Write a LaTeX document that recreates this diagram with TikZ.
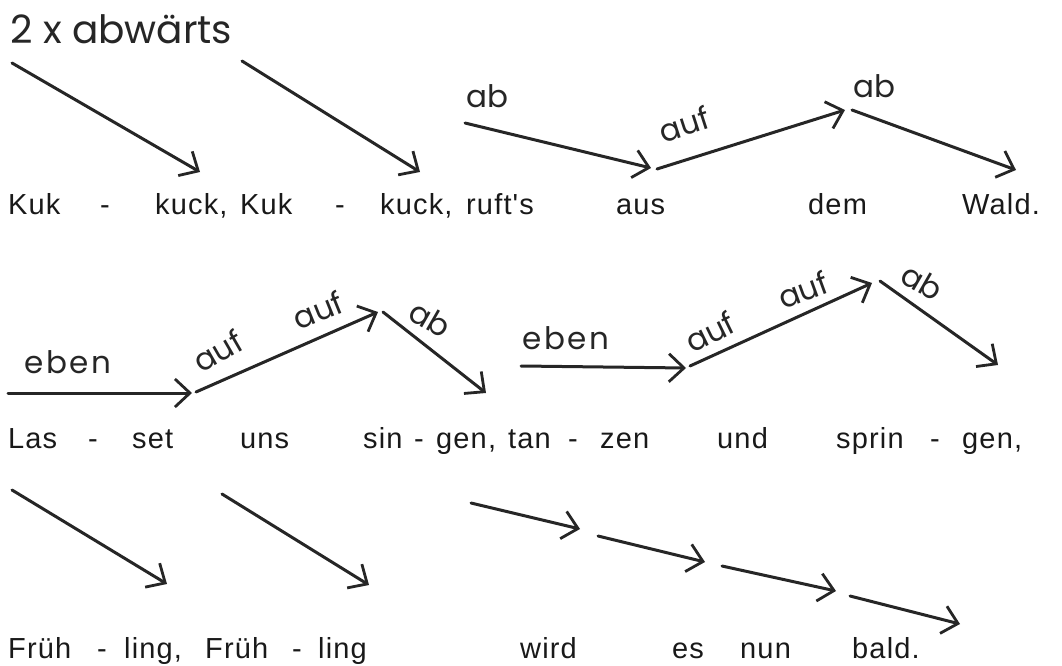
\documentclass[tikz,border=0pt]{standalone}
\usepackage{fontspec}
\usetikzlibrary{arrows.meta}
\newfontfamily\lyr[LetterSpace=4]{Liberation Sans}
\newfontfamily\hand{Poppins}
\newfontfamily\handw[LetterSpace=8]{Poppins}
\tikzset{
  syl/.style={anchor=base west, inner sep=0pt, font=\lyr\fontsize{29}{31}\selectfont, text=black!90},
  hw/.style={inner sep=0pt, font=\hand\fontsize{31}{33}\selectfont, text=black!85},
  hwe/.style={inner sep=0pt, font=\handw\fontsize{31}{33}\selectfont, text=black!85},
  ttl/.style={anchor=base west, inner sep=0pt, font=\hand\fontsize{39}{41}\selectfont, text=black!85},
  arr/.style={line width=3pt, draw=black!85, line cap=round, -{Straight Barb[length=15pt,width=28pt,line width=2.8pt]}},
}
\begin{document}
\begin{tikzpicture}[x=1pt,y=-1pt]
\useasboundingbox (0,0) rectangle (1062,666);
% title
\node[ttl] (t) at (10,44) {2 x abwärts};
% ---------- row 1 ----------
\foreach \n/\x/\w in {a1/8/Kuk, a2/100/-, a3/155/{kuck,}, a4/240/Kuk, a5/335/-, a6/380/{kuck,}, a7/466/{ruft's}, a8/616/aus, a9/808/dem, a10/962/{Wald.}}
  \node[syl] (\n) at (\x,214) {\w};
\coordinate (p1s) at (12,63);  \coordinate (p1e) at (200,172);
\coordinate (p2s) at (242,61); \coordinate (p2e) at (420,172);
\coordinate (p3s) at (465,123); \coordinate (p3e) at (651,168);
\coordinate (p4s) at (657,169); \coordinate (p4e) at (845,110);
\coordinate (p5s) at (852,110); \coordinate (p5e) at (1016,170);
\draw[arr] (p1s) -- (p1e);
\draw[arr] (p2s) -- (p2e);
\draw[arr] (p3s) -- (p3e);
\draw[arr] (p4s) -- (p4e);
\draw[arr] (p5s) -- (p5e);
\node[hw] (l1) at (487,96) {ab};
\node[hw, rotate=18] (l2) at (684,124) {auf};
\node[hw] (l3) at (874,86) {ab};
% ---------- row 2 ----------
\foreach \n/\x/\w in {b1/8/Las, b2/88/-, b3/132/set, b4/240/uns, b5/363/sin, b6/414/-, b7/436/{gen,}, b8/508/tan, b9/568/-, b10/600/zen, b11/717/und, b12/836/sprin, b13/930/-, b14/962/{gen,}}
  \node[syl] (\n) at (\x,448) {\w};
\coordinate (q1s) at (8,393);   \coordinate (q1e) at (192,393);
\coordinate (q2s) at (196,392); \coordinate (q2e) at (378,312);
\coordinate (q3s) at (383,312); \coordinate (q3e) at (486,393);
\coordinate (q4s) at (521,366); \coordinate (q4e) at (686,368);
\coordinate (q5s) at (690,366); \coordinate (q5e) at (872,283);
\coordinate (q6s) at (880,281); \coordinate (q6e) at (998,365);
\draw[arr] (q1s) -- (q1e);
\draw[arr] (q2s) -- (q2e);
\draw[arr] (q3s) -- (q3e);
\draw[arr] (q4s) -- (q4e);
\draw[arr] (q5s) -- (q5e);
\draw[arr] (q6s) -- (q6e);
\node[hwe] (m1) at (68,362) {eben};
\node[hw, rotate=30] (m2) at (218,351) {auf};
\node[hw, rotate=22] (m3) at (318,310) {auf};
\node[hw, rotate=-30] (m4) at (430,319) {ab};
\node[hwe] (m5) at (566,338) {eben};
\node[hw, rotate=26] (m6) at (710,332) {auf};
\node[hw, rotate=20] (m7) at (803,290) {auf};
\node[hw, rotate=-30] (m8) at (922,282) {ab};
% ---------- row 3 ----------
\foreach \n/\x/\w in {c1/8/Früh, c2/97/-, c3/124/{ling,}, c4/205/Früh, c5/292/-, c6/318/ling, c7/520/wird, c8/672/es, c9/740/nun, c10/852/{bald.}}
  \node[syl] (\n) at (\x,658) {\w};
\coordinate (r1s) at (12,490);  \coordinate (r1e) at (167,584);
\coordinate (r2s) at (222,494); \coordinate (r2e) at (369,585);
\coordinate (r3s) at (471,503); \coordinate (r3e) at (580,529);
\coordinate (r4s) at (598,536); \coordinate (r4e) at (705,562);
\coordinate (r5s) at (722,566); \coordinate (r5e) at (836,591);
\coordinate (r6s) at (850,596); \coordinate (r6e) at (960,624);
\draw[arr] (r1s) -- (r1e);
\draw[arr] (r2s) -- (r2e);
\draw[arr] (r3s) -- (r3e);
\draw[arr] (r4s) -- (r4e);
\draw[arr] (r5s) -- (r5e);
\draw[arr] (r6s) -- (r6e);
\end{tikzpicture}
\end{document}
